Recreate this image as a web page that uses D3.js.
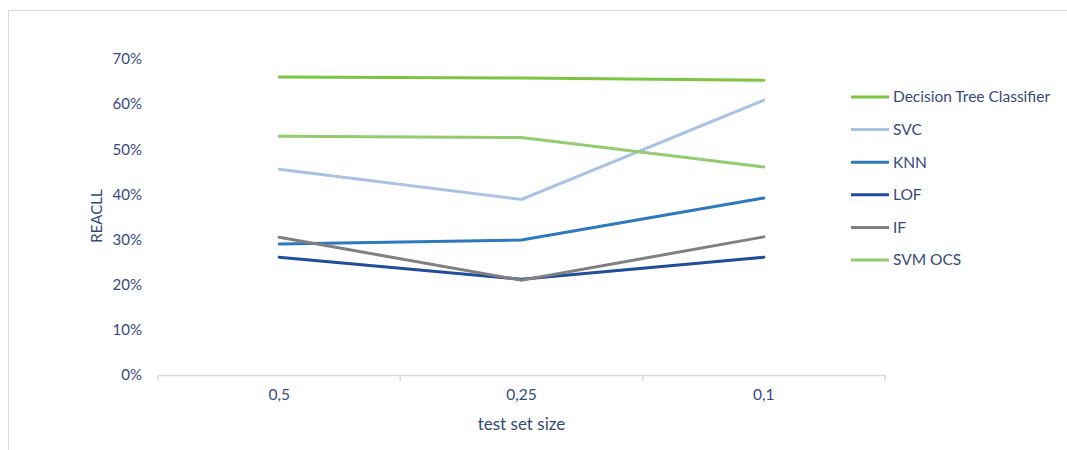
<!DOCTYPE html>
<html lang="en">
<head>
  <meta charset="UTF-8">
  <title>Recall vs test set size</title>
  <script src="https://d3js.org/d3.v7.min.js"></script>
  <style>
    body { margin: 0; background: #fff; }
    text { font-family: Lato, "Open Sans", sans-serif; fill: #354a7c; }
  </style>
</head>
<body>
  <svg width="1067" height="450"></svg>

  <script>
    // data
    const categories = ["0,5", "0,25", "0,1"];
    const yTicks = [0, 0.1, 0.2, 0.3, 0.4, 0.5, 0.6, 0.7];

    const seriesNames = ["Decision Tree Classifier", "SVC", "KNN", "LOF", "IF", "SVM OCS"];
    const seriesColors = ["#7cc540", "#a9c3e6", "#2e78bd", "#1f4c9c", "#808080", "#93cb72"];

    const dtc    = [0.660, 0.658, 0.653];
    const svc    = [0.456, 0.389, 0.609];
    const knn    = [0.290, 0.299, 0.392];
    const lof    = [0.261, 0.212, 0.261];
    const iforest = [0.305, 0.210, 0.306];
    const svmOcs = [0.529, 0.526, 0.461];

    const seriesValues = [dtc, svc, knn, lof, iforest, svmOcs];

    const svg = d3.select("svg");

    // chart frame (only top and left edges visible in the picture)
    svg.append("rect")
        .attr("x", 8.5).attr("y", 10.5)
        .attr("width", 1100).attr("height", 500)
        .attr("fill", "none")
        .attr("stroke", "#d9d9d9");

    const plotLeft = 158, plotRight = 885, plotTop = 59, plotBottom = 375;

    const x = d3.scaleBand().domain(categories).range([plotLeft, plotRight]);
    const y = d3.scaleLinear().domain([0, 0.7]).range([plotBottom, plotTop]);

    // y axis labels only
    const yAxis = svg.append("g")
        .attr("transform", `translate(${plotLeft},0)`)
        .call(d3.axisLeft(y).tickValues(yTicks).tickFormat(d3.format(".0%")).tickSize(0).tickPadding(16));
    yAxis.select(".domain").remove();
    yAxis.selectAll("text").style("font-size", "15px").attr("fill", "#354a7c");

    // x axis
    const xAxis = svg.append("g")
        .attr("transform", `translate(0,${plotBottom})`)
        .call(d3.axisBottom(x).tickSize(0).tickPadding(14));
    xAxis.select(".domain").attr("stroke", "#d9d9d9").attr("stroke-width", 1.5);
    xAxis.selectAll("text").style("font-size", "15.5px").attr("fill", "#354a7c");

    // category boundary ticks
    const bounds = categories.map(c => x(c)).concat([x(categories[categories.length - 1]) + x.bandwidth()]);
    svg.append("g").selectAll("line")
        .data(bounds)
        .enter().append("line")
        .attr("x1", d => d).attr("x2", d => d)
        .attr("y1", plotBottom).attr("y2", plotBottom + 6)
        .attr("stroke", "#d9d9d9")
        .attr("stroke-width", 1.5);

    // axis titles
    svg.append("text")
        .attr("transform", "translate(102,216) rotate(-90)")
        .attr("text-anchor", "middle")
        .style("font-size", "15px")
        .text("REACLL");

    svg.append("text")
        .attr("x", (plotLeft + plotRight) / 2)
        .attr("y", 430)
        .attr("text-anchor", "middle")
        .style("font-size", "17px")
        .text("test set size");

    // lines
    const line = d3.line()
        .x((d, i) => x(categories[i]) + x.bandwidth() / 2)
        .y(d => y(d));

    svg.append("g").selectAll("path")
        .data(seriesValues)
        .enter().append("path")
        .attr("d", line)
        .attr("fill", "none")
        .attr("stroke", (d, i) => seriesColors[i])
        .attr("stroke-width", 3)
        .attr("stroke-linecap", "round");

    // legend
    const legend = svg.append("g").selectAll("g")
        .data(seriesNames)
        .enter().append("g")
        .attr("transform", (d, i) => `translate(851,${97 + i * 32.6})`);

    legend.append("line")
        .attr("x1", 0).attr("x2", 38)
        .attr("stroke", (d, i) => seriesColors[i])
        .attr("stroke-width", 3);

    legend.append("text")
        .attr("x", 42)
        .attr("dy", "0.35em")
        .style("font-size", "15.5px")
        .text(d => d);
  </script>
</body>
</html>
